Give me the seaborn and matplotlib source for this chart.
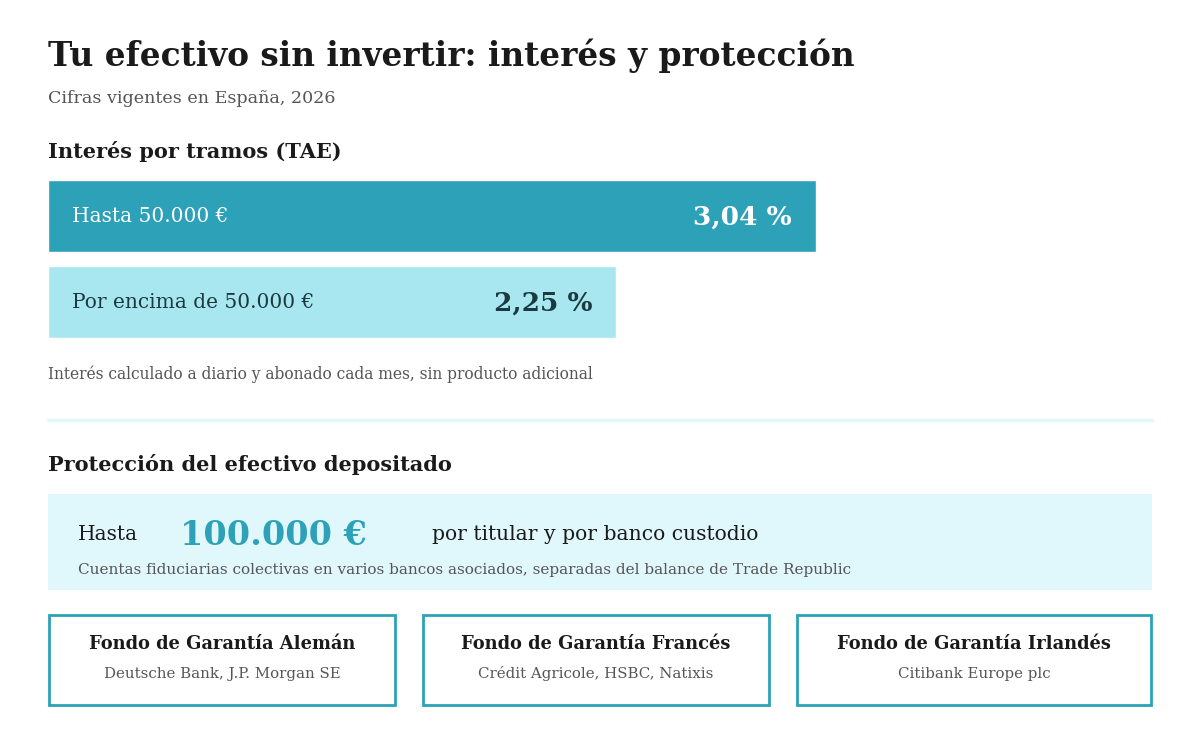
import matplotlib
matplotlib.use("Agg")
import matplotlib.pyplot as plt
from matplotlib.patches import Rectangle
from matplotlib.lines import Line2D
import pandas as pd
import seaborn as sns

# ---------------------------------------------------------------------
# Data
# ---------------------------------------------------------------------
tramos = ["Hasta 50.000 €", "Por encima de 50.000 €"]
tae = [3.04, 2.25]
tae_labels = ["3,04 %", "2,25 %"]
bar_colors = ["#2CA1B7", "#A8E7EF"]
label_colors = ["#FFFFFF", "#1B3A40"]

garantia_max = "100.000 €"
fondos = ["Fondo de Garantía Alemán", "Fondo de Garantía Francés", "Fondo de Garantía Irlandés"]
bancos = ["Deutsche Bank, J.P. Morgan SE", "Crédit Agricole, HSBC, Natixis", "Citibank Europe plc"]

TEAL = "#2CA1B7"
PALE = "#E0F8FC"
DARK = "#1A1A1A"
GREY = "#555555"

sns.set_theme(style="white")
plt.rcParams["font.family"] = ["DejaVu Serif"]

W, H = 1200, 744
fig = plt.figure(figsize=(W / 100, H / 100), dpi=100)
fig.patch.set_facecolor("white")


def px(x, y):
    # pixel position (top-left origin) -> figure fraction
    return x / W, 1 - y / H


def ptxt(x, y, s, size, color=DARK, weight="normal", ha="left", va="baseline"):
    fx, fy = px(x, y)
    fig.text(fx, fy, s, fontsize=size, color=color, fontweight=weight, ha=ha, va=va)


def prect(x0, y0, x1, y1, **kw):
    fx0, fy1 = px(x0, y1)
    fig.patches.append(Rectangle((fx0, fy1), (x1 - x0) / W, (y1 - y0) / H,
                                 transform=fig.transFigure, figure=fig, **kw))


# header
ptxt(48, 66, "Tu efectivo sin invertir: interés y protección", 23.6, weight="bold")
ptxt(48, 103, "Cifras vigentes en España, 2026", 12.6, color=GREY)
ptxt(48, 158, "Interés por tramos (TAE)", 15, weight="bold")

# ---------------------------------------------------------------------
# Bars
# ---------------------------------------------------------------------
df = pd.DataFrame({"tramo": tramos, "tae": tae})
scale_max = tae[0] * 1104 / 768
ax = fig.add_axes([48 / W, 1 - 338 / H, 1104 / W, 158 / H])
sns.barplot(data=df, x="tae", y="tramo", hue="tramo", palette=bar_colors,
            width=72 / 86, legend=False, ax=ax, saturation=1)
ax.set_xlim(0, scale_max)
ax.set_ylim(1 + 0.5 * 158 / 86 - 0.5, -(0.5 * 158 / 86 - 0.5))
ax.axis("off")

pad = 24 * 0.72
for i, (name, val, lab, col) in enumerate(zip(tramos, tae, tae_labels, label_colors)):
    ax.annotate(name, xy=(0, i), xytext=(pad, 0), textcoords="offset points",
                ha="left", va="center", fontsize=14.5, color=col)
    ax.annotate(lab, xy=(val, i), xytext=(-pad, -1), textcoords="offset points",
                ha="right", va="center", fontsize=19, color=col, fontweight="bold")

ptxt(48, 379, "Interés calculado a diario y abonado cada mes, sin producto adicional", 11.2, color=GREY)

# separator
fig.lines.append(Line2D([48 / W, 1152 / W], [1 - 420 / H] * 2, transform=fig.transFigure,
                        color=PALE, linewidth=2.5))

# ---------------------------------------------------------------------
# Protection block
# ---------------------------------------------------------------------
ptxt(48, 471, "Protección del efectivo depositado", 15, weight="bold")
prect(48, 494, 1152, 590, facecolor=PALE, edgecolor="none")
ptxt(78, 540, "Hasta", 14.5)
ptxt(180, 545, garantia_max, 24, color=TEAL, weight="bold")
ptxt(432, 540, "por titular y por banco custodio", 14.6)
ptxt(78, 574, "Cuentas fiduciarias colectivas en varios bancos asociados, separadas del balance de Trade Republic",
     11, color=GREY)

boxes = [(48, 396), (422, 770), (796, 1152)]
for (x0, x1), fondo, banco in zip(boxes, fondos, bancos):
    prect(x0 + 1, 615, x1 - 1, 705, facecolor="white", edgecolor=TEAL, linewidth=2)
    cx = (x0 + x1) / 2
    ptxt(cx, 649, fondo, 12.9, weight="bold", ha="center")
    ptxt(cx, 678, banco, 10.8, color=GREY, ha="center")

fig.savefig("out.png", dpi=100, facecolor="white")
